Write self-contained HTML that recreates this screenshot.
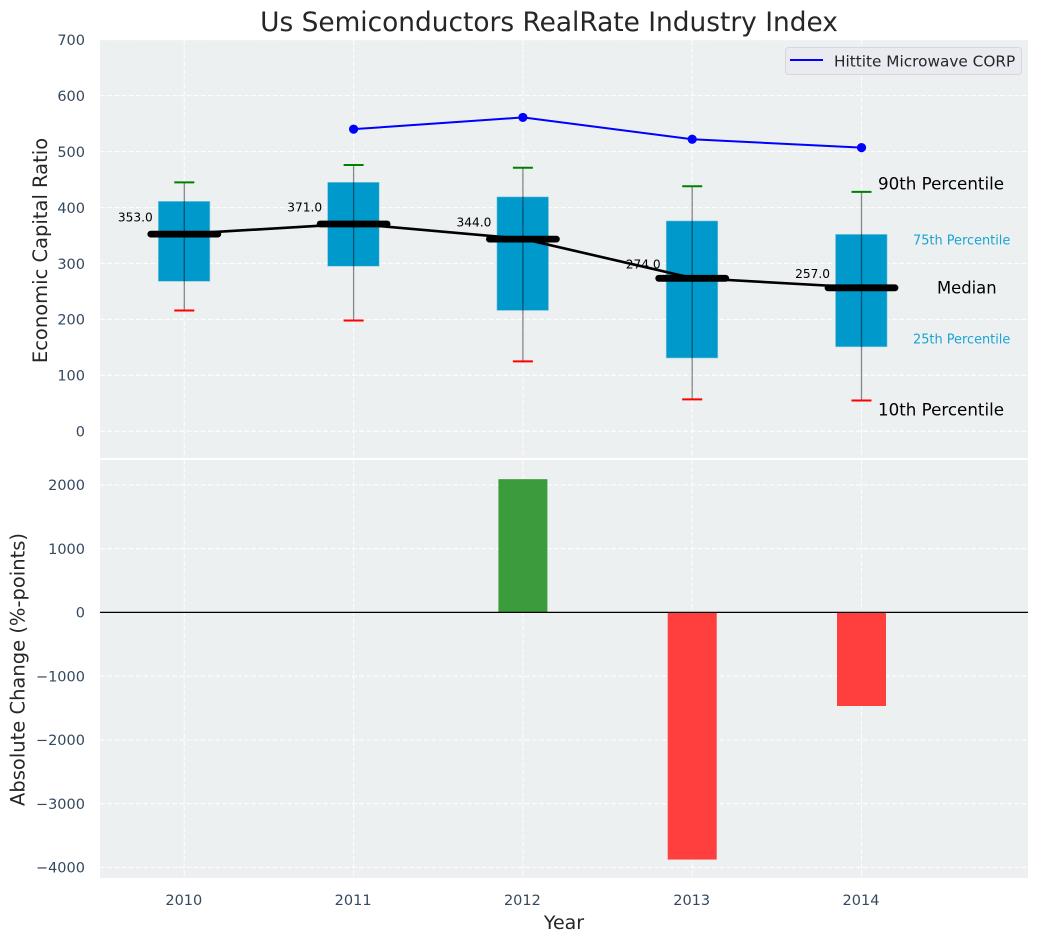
<!DOCTYPE html>
<html lang="en">
<head>
<meta charset="utf-8">
<title>Us Semiconductors RealRate Industry Index</title>
<style>
html,body{margin:0;padding:0;background:#fff;}
svg{display:block;font-family:"DejaVu Sans","Liberation Sans",sans-serif;}
</style>
</head>
<body>
<svg id="chart" xmlns="http://www.w3.org/2000/svg" width="1039" height="942" viewBox="0 0 1039 942">
  <rect width="1039" height="942" fill="#ffffff"/>
  <rect x="100" y="40" width="928" height="418" fill="#ecf0f1"/>
  <rect x="100" y="460" width="928" height="418" fill="#ecf0f1"/>
  <g id="grid"></g>
  <g id="ticks" font-size="14.5" fill="#34495e"></g>
  <g id="marks"></g>
  <text x="549" y="31" font-size="26.4" fill="#262626" text-anchor="middle">Us Semiconductors RealRate Industry Index</text>
  <text transform="translate(47,250.5) rotate(-90)" font-size="19.5" fill="#262626" text-anchor="middle">Economic Capital Ratio</text>
  <text transform="translate(24.5,669.5) rotate(-90)" font-size="19.5" fill="#262626" text-anchor="middle">Absolute Change (%-points)</text>
  <text x="564" y="929" font-size="19" fill="#262626" text-anchor="middle">Year</text>
  <text x="878" y="189.5" font-size="16.7" fill="#000000">90th Percentile</text>
  <text x="913" y="244.5" font-size="12.9" fill="#1ba3d1">75th Percentile</text>
  <text x="937" y="293.5" font-size="16.4" fill="#000000">Median</text>
  <text x="913" y="343.5" font-size="12.9" fill="#1ba3d1">25th Percentile</text>
  <text x="878" y="415.5" font-size="16.7" fill="#000000">10th Percentile</text>
  <g>
    <rect x="785.5" y="47.5" width="236" height="27" rx="3" fill="#eaebf1" stroke="#d6d8de" stroke-width="1"/>
    <line x1="790" y1="60" x2="823" y2="60" stroke="#0000ff" stroke-width="2"/>
    <text x="834" y="66.5" font-size="15.3" fill="#262626">Hittite Microwave CORP</text>
  </g>
</svg>
<script>
const categories = ['2010', '2011', '2012', '2013', '2014'];
const p10Values = [216, 198, 125, 57, 55];
const p25Values = [268, 295, 216, 131, 151];
const medianValues = [353, 371, 344, 274, 257];
const p75Values = [411, 445, 419, 376, 352];
const p90Values = [445, 476, 471, 438, 428];
const hittiteValues = [null, 540, 561, 522, 507];
const changeValues = [null, null, 2090, -3877, -1468];
const topTicks = [0, 100, 200, 300, 400, 500, 600, 700];
const bottomTicks = [-4000, -3000, -2000, -1000, 0, 1000, 2000];
const NS = 'http://www.w3.org/2000/svg';
function xPos(i) { return 184.3 + 169.3 * i; }
function yTop(v) { return 431.3 - 0.5595 * v; }
function yBottom(v) { return 612.4 - 0.06375 * v; }
function mk(parent, tag, props) {
  const el = document.createElementNS(NS, tag);
  for (const k in props) el.setAttribute(k, props[k]);
  parent.appendChild(el);
  return el;
}
const grid = document.getElementById('grid');
const ticks = document.getElementById('ticks');
const marks = document.getElementById('marks');
const gridStyle = { stroke: '#ffffff', 'stroke-width': 1.1, 'stroke-dasharray': '5,2.2', opacity: 0.9 };
categories.forEach(function (cat, i) {
  const upper = mk(grid, 'line', Object.assign({ x1: xPos(i), x2: xPos(i), y1: 40, y2: 458 }, gridStyle));
  
  
  const lower = mk(grid, 'line', Object.assign({ x1: xPos(i), x2: xPos(i), y1: 460, y2: 878 }, gridStyle));
  
  
  const label = mk(ticks, 'text', { x: xPos(i) - 0.5, y: 905, 'text-anchor': 'middle' });
  label.textContent = cat;
  
  
});
topTicks.forEach(function (t) {
  const line = mk(grid, 'line', Object.assign({ x1: 100, x2: 1028, y1: yTop(t), y2: yTop(t) }, gridStyle));
  
  
  const label = mk(ticks, 'text', { x: 85, y: yTop(t) + 5.3, 'text-anchor': 'end' });
  label.textContent = String(t);
  
  
});
bottomTicks.forEach(function (t) {
  const line = mk(grid, 'line', Object.assign({ x1: 100, x2: 1028, y1: yBottom(t), y2: yBottom(t) }, gridStyle));
  
  
  const label = mk(ticks, 'text', { x: 85, y: yBottom(t) + 5.3, 'text-anchor': 'end' });
  label.textContent = (t < 0 ? '\u2212' + Math.abs(t) : String(t));
  
  
});
function polyPoints(values, yFn) {
  const pts = [];
  values.forEach(function (v, i) { if (v !== null) pts.push(xPos(i) + ',' + yFn(v)); });
  return pts.join(' ');
}
// boxes
categories.forEach(function (cat, i) {
  const x = xPos(i);
  const box = mk(marks, 'rect', { x: x - 26, y: yTop(p75Values[i]), width: 51.6, height: yTop(p25Values[i]) - yTop(p75Values[i]), fill: '#0099cc', stroke: '#8fcbe0', 'stroke-width': 0.6 });
  
  
});
const medianLine = mk(marks, 'polyline', { points: polyPoints(medianValues, yTop), fill: 'none', stroke: '#000000', 'stroke-width': 2.6 });


categories.forEach(function (cat, i) {
  const x = xPos(i);
  const medianBar = mk(marks, 'line', { x1: x - 33.5, x2: x + 33.5, y1: yTop(medianValues[i]) + 0.3, y2: yTop(medianValues[i]) + 0.3, stroke: '#000000', 'stroke-width': 6.8, 'stroke-linecap': 'round' });
  
  
  const whisker = mk(marks, 'line', { x1: x, x2: x, y1: yTop(p90Values[i]), y2: yTop(p10Values[i]), stroke: '#000000', 'stroke-width': 1.3, opacity: 0.45 });
  
  
  const capHigh = mk(marks, 'line', { x1: x - 10, x2: x + 10, y1: yTop(p90Values[i]), y2: yTop(p90Values[i]), stroke: '#008000', 'stroke-width': 2 });
  
  
  const capLow = mk(marks, 'line', { x1: x - 10, x2: x + 10, y1: yTop(p10Values[i]), y2: yTop(p10Values[i]), stroke: '#ff0000', 'stroke-width': 2 });
  
  
  const valueLabel = mk(marks, 'text', { x: x - 31.5, y: yTop(medianValues[i]) - (i < 3 ? 12.3 : 9.5), 'font-size': 12.2, 'text-anchor': 'end', fill: '#000000' });
  valueLabel.textContent = medianValues[i].toFixed(1);
  
  
});
const hittiteLine = mk(marks, 'polyline', { points: polyPoints(hittiteValues, yTop), fill: 'none', stroke: '#0000ff', 'stroke-width': 2 });


hittiteValues.forEach(function (v, i) {
  if (v === null) return;
  const dot = mk(marks, 'circle', { cx: xPos(i), cy: yTop(v), r: 4.6, fill: '#0000ff' });
  
  
});
// change bars
changeValues.forEach(function (v, i) {
  if (v === null) return;
  const y0 = yBottom(0);
  const y1 = yBottom(v);
  const bar = mk(marks, 'rect', { x: xPos(i) - 24.5, y: Math.min(y0, y1), width: 49, height: Math.abs(y1 - y0), fill: v >= 0 ? '#3b9c3b' : '#ff3e3e' });
  
  
});
const zeroLine = mk(marks, 'line', { x1: 100, x2: 1028, y1: yBottom(0), y2: yBottom(0), stroke: '#000000', 'stroke-width': 1.3 });


</script>
</body>
</html>
